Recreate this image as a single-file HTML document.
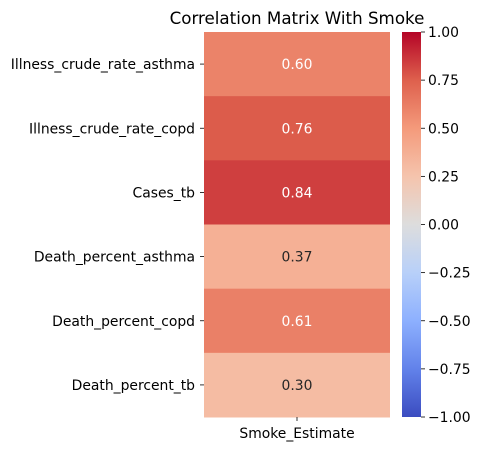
<!DOCTYPE html>
<html><head><meta charset="utf-8"><style>
body{margin:0;background:#fff;}
svg text{font-family:"DejaVu Sans","Liberation Sans",sans-serif;}
</style></head><body>
<svg width="482" height="451" viewBox="0 0 482 451" xmlns="http://www.w3.org/2000/svg">
<defs>
<linearGradient id="cw" x1="0" y1="1" x2="0" y2="0">
<stop offset="0" stop-color="rgb(59,76,192)"/>
<stop offset="0.125" stop-color="rgb(98,130,234)"/>
<stop offset="0.25" stop-color="rgb(141,176,254)"/>
<stop offset="0.375" stop-color="rgb(184,208,249)"/>
<stop offset="0.5" stop-color="rgb(221,221,221)"/>
<stop offset="0.625" stop-color="rgb(245,196,173)"/>
<stop offset="0.75" stop-color="rgb(244,154,123)"/>
<stop offset="0.875" stop-color="rgb(222,96,77)"/>
<stop offset="1" stop-color="rgb(180,4,38)"/>
</linearGradient>
</defs>
<text x="297" y="24" font-size="16.7" text-anchor="middle" fill="#000">Correlation Matrix With Smoke</text>
<g id="cells"></g>
<g id="ylabels"></g>
<line x1="297" y1="417" x2="297" y2="421" stroke="#000" stroke-width="0.8"/>
<text x="297" y="438" font-size="13.9" text-anchor="middle">Smoke_Estimate</text>
<rect x="402" y="32" width="19" height="385" fill="url(#cw)"/>
<g id="cbticks"></g>
</svg>
<script>
const rowLabels=["Illness_crude_rate_asthma","Illness_crude_rate_copd","Cases_tb","Death_percent_asthma","Death_percent_copd","Death_percent_tb"];
const values=[0.60,0.76,0.84,0.37,0.61,0.30];
const cbTicks=[1.00,0.75,0.50,0.25,0.00,-0.25,-0.50,-0.75,-1.00];
const stops=[[59,76,192],[98,130,234],[141,176,254],[184,208,249],[221,221,221],[245,196,173],[244,154,123],[222,96,77],[180,4,38]];
function cmap(v){let t=(v+1)/2*8;let i=Math.min(7,Math.floor(t));let f=t-i;let a=stops[i],b=stops[i+1];
return `rgb(${a.map((c,k)=>Math.round(c+(b[k]-c)*f)).join(',')})`;}
const NS="http://www.w3.org/2000/svg";
const top0=32,bot=417,x0=204,x1=390;
const rh=(bot-top0)/values.length;
function yRow(i){return top0+i*rh;}
function yCb(v){return top0+(1-v)/2*(bot-top0);}
const cells=document.getElementById('cells'),yl=document.getElementById('ylabels'),cb=document.getElementById('cbticks');
values.forEach((v,i)=>{
 const r=document.createElementNS(NS,'rect');
 r.setAttribute('x',x0);r.setAttribute('y',yRow(i));r.setAttribute('width',x1-x0);r.setAttribute('height',rh+0.5);
 r.setAttribute('fill',cmap(v));
 
 
 cells.appendChild(r);
 const t=document.createElementNS(NS,'text');
 t.setAttribute('x',(x0+x1)/2);t.setAttribute('y',yRow(i)+rh/2+5);t.setAttribute('font-size','13.9');t.setAttribute('text-anchor','middle');
 t.setAttribute('fill',v>0.5?'#fff':'#262626');t.textContent=v.toFixed(2);
 
 
 cells.appendChild(t);
 const ym=yRow(i)+rh/2;
 const tk=document.createElementNS(NS,'line');
 tk.setAttribute('x1',x0-4);tk.setAttribute('x2',x0);tk.setAttribute('y1',ym);tk.setAttribute('y2',ym);tk.setAttribute('stroke','#000');tk.setAttribute('stroke-width','0.8');
 
 
 yl.appendChild(tk);
 const lb=document.createElementNS(NS,'text');
 lb.setAttribute('x',x0-9);lb.setAttribute('y',ym+5);lb.setAttribute('font-size','13.9');lb.setAttribute('text-anchor','end');
 lb.textContent=rowLabels[i];
 
 
 yl.appendChild(lb);
});
cbTicks.forEach(v=>{
 const y=yCb(v);
 const tk=document.createElementNS(NS,'line');
 tk.setAttribute('x1',421);tk.setAttribute('x2',425);tk.setAttribute('y1',y);tk.setAttribute('y2',y);tk.setAttribute('stroke','#000');tk.setAttribute('stroke-width','0.8');
 
 
 cb.appendChild(tk);
 const lb=document.createElementNS(NS,'text');
 lb.setAttribute('x',428);lb.setAttribute('y',y+5);lb.setAttribute('font-size','13.9');
 lb.textContent=(v<0?'\u2212':'')+Math.abs(v).toFixed(2);
 
 
 cb.appendChild(lb);
});
</script>
</body></html>
